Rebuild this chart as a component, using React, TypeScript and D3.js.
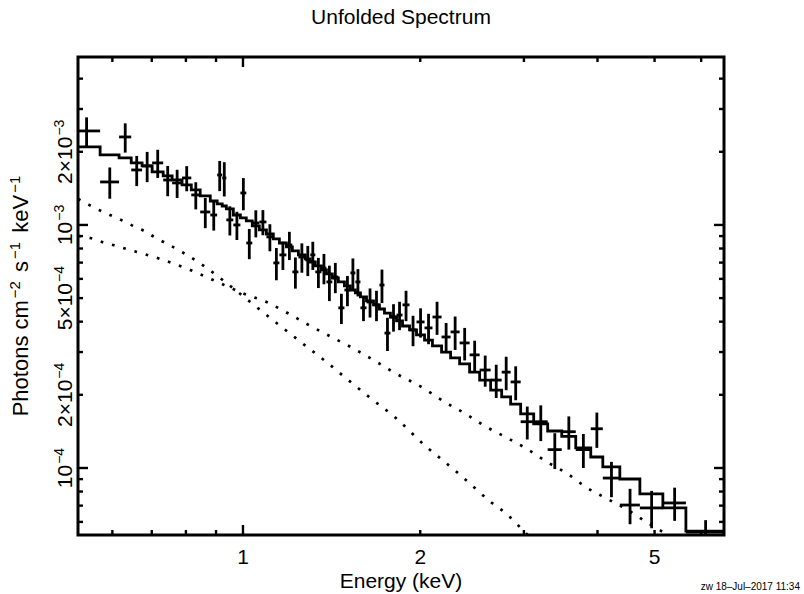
import { useEffect, useRef } from "react";
import * as d3 from "d3";

// channel bin edges (keV)
const binEdges = [
  0.513, 0.572, 0.616, 0.646, 0.674, 0.701, 0.732, 0.758, 0.788, 0.817, 0.846,
  0.88, 0.904, 0.922, 0.937, 0.963, 0.99, 1.013, 1.037, 1.066, 1.096, 1.126,
  1.153, 1.185, 1.213, 1.242, 1.276, 1.301, 1.327, 1.359, 1.386, 1.418, 1.452,
  1.487, 1.522, 1.552, 1.583, 1.621, 1.666, 1.705, 1.739, 1.78, 1.823, 1.866,
  1.918, 1.971, 2.034, 2.098, 2.174, 2.252, 2.333, 2.426, 2.523, 2.634, 2.75,
  2.848, 2.962, 3.117, 3.292, 3.478, 3.674, 3.896, 4.084, 4.365, 4.721, 5.165,
  5.652, 6.558,
];

// unfolded flux, units of 1e-3 photons cm^-2 s^-1 keV^-1
const fluxMilli = [
  2.437, 1.503, 2.302, 1.684, 1.749, 1.8, 1.531, 1.489, 1.561, 1.329, 1.131,
  1.099, 1.606, 1.561, 1.049, 1.0, 1.354, 0.843, 1.019, 1.029, 0.893, 0.698,
  0.753, 0.827, 0.641, 0.738, 0.718, 0.753, 0.641, 0.665, 0.583, 0.611, 0.456,
  0.54, 0.635, 0.583, 0.456, 0.482, 0.469, 0.566, 0.359, 0.418, 0.426, 0.469,
  0.37, 0.399, 0.377, 0.418, 0.346, 0.363, 0.327, 0.292, 0.253, 0.23, 0.248,
  0.226, 0.155, 0.155, 0.119, 0.141, 0.119, 0.145, 0.0909, 0.0704, 0.0685,
  0.0718, 0.0545,
];

const errMilli = [
  0.335, 0.221, 0.317, 0.239, 0.249, 0.239, 0.218, 0.198, 0.185, 0.17, 0.161,
  0.151, 0.228, 0.251, 0.144, 0.133, 0.205, 0.12, 0.13, 0.122, 0.114, 0.106,
  0.1, 0.11, 0.094, 0.102, 0.102, 0.1, 0.091, 0.095, 0.097, 0.087, 0.065,
  0.077, 0.093, 0.075, 0.054, 0.066, 0.067, 0.089, 0.056, 0.054, 0.057, 0.067,
  0.053, 0.055, 0.054, 0.065, 0.049, 0.057, 0.05, 0.042, 0.037, 0.036, 0.039,
  0.036, 0.024, 0.026, 0.02, 0.022, 0.019, 0.024, 0.0151, 0.0117, 0.012,
  0.0112, 0.0065,
];

// total model folded per bin
const modelMilli = [
  2.094, 1.942, 1.887, 1.8, 1.749, 1.652, 1.591, 1.532, 1.461, 1.393, 1.316,
  1.255, 1.22, 1.197, 1.164, 1.099, 1.069, 1.039, 0.991, 0.954, 0.918, 0.876,
  0.843, 0.812, 0.782, 0.753, 0.725, 0.704, 0.678, 0.653, 0.629, 0.605, 0.583,
  0.561, 0.54, 0.525, 0.506, 0.487, 0.469, 0.451, 0.434, 0.418, 0.403, 0.384,
  0.37, 0.353, 0.336, 0.318, 0.3, 0.284, 0.268, 0.248, 0.23, 0.209, 0.196,
  0.183, 0.167, 0.152, 0.142, 0.135, 0.121, 0.111, 0.101, 0.0901, 0.0782,
  0.0685, 0.055,
];

// model components (dotted)
const diskEnergy = [
  0.5247, 0.5477, 0.5741, 0.5994, 0.6258, 0.6508, 0.6794, 0.7065, 0.7822,
  0.8628, 0.9515, 1.029, 1.113, 1.199, 1.291, 1.386, 1.487, 1.646, 1.816,
  2.042, 2.2, 2.36, 2.634, 2.815, 3.009, 3.056,
];
const diskMilli = [
  1.279, 1.209, 1.142, 1.089, 1.039, 0.991, 0.945, 0.893, 0.782, 0.672, 0.561,
  0.482, 0.414, 0.359, 0.312, 0.273, 0.237, 0.194, 0.161, 0.123, 0.106, 0.0918,
  0.0725, 0.0641, 0.0545, 0.0525,
];
const plEnergy = [
  0.5247, 0.5499, 0.5763, 0.6018, 0.6432, 0.7233, 0.8135, 0.8973, 0.9973,
  1.104, 1.199, 1.302, 1.413, 1.534, 1.666, 1.801, 2.026, 2.2, 2.379, 2.573,
  2.793, 3.033, 3.28, 3.561, 3.821, 4.132, 4.504, 4.871, 5.268, 5.372,
];
const plMilli = [
  0.901, 0.884, 0.851, 0.827, 0.789, 0.725, 0.653, 0.588, 0.525, 0.478, 0.43,
  0.384, 0.346, 0.312, 0.278, 0.248, 0.213, 0.187, 0.168, 0.149, 0.134, 0.12,
  0.106, 0.0945, 0.0835, 0.0752, 0.0672, 0.0594, 0.053, 0.0515,
];

const xDomain = [0.5246, 6.56];
const yDomain = [5.3e-5, 4.91e-3];

const xMajorTicks = [1];
const xMinorTicks = [0.6, 0.7, 0.8, 0.9, 2, 3, 4, 5, 6];
const xTickLabels = [1, 2, 5];

const yMajorTicks = [1e-4, 1e-3];
const yMinorTicks = [
  6e-5, 7e-5, 8e-5, 9e-5, 2e-4, 3e-4, 4e-4, 5e-4, 6e-4, 7e-4, 8e-4, 9e-4, 2e-3,
  3e-3, 4e-3,
];
const yTickLabels = [
  { v: 1e-4, m: "", e: "−4" },
  { v: 2e-4, m: "2×", e: "−4" },
  { v: 5e-4, m: "5×", e: "−4" },
  { v: 1e-3, m: "", e: "−3" },
  { v: 2e-3, m: "2×", e: "−3" },
];

const W = 804;
const H = 594;
const margin = { top: 57, right: 80, bottom: 59, left: 78 };
const FONT = "'Liberation Sans', Arial, Helvetica, sans-serif";

export default function App() {
  const ref = useRef<SVGSVGElement>(null);

  useEffect(() => {
    const svg = d3.select(ref.current);
    svg.selectAll("*").remove();

    const x0 = margin.left;
    const x1 = W - margin.right;
    const y0 = margin.top;
    const y1 = H - margin.bottom;

    const x = d3.scaleLog().domain(xDomain).range([x0, x1]);
    const y = d3.scaleLog().domain(yDomain).range([y1, y0]);

    svg
      .append("defs")
      .append("clipPath")
      .attr("id", "plotClip")
      .append("rect")
      .attr("x", x0)
      .attr("y", y0)
      .attr("width", x1 - x0)
      .attr("height", y1 - y0);

    const plot = svg.append("g").attr("clip-path", "url(#plotClip)");

    const bins = fluxMilli.map((f, i) => ({
      lo: binEdges[i],
      hi: binEdges[i + 1],
      mid: (binEdges[i] + binEdges[i + 1]) / 2,
      flux: f * 1e-3,
      err: errMilli[i] * 1e-3,
      model: modelMilli[i] * 1e-3,
    }));

    // dotted components
    const line = d3
      .line<[number, number]>()
      .x((d) => x(d[0]))
      .y((d) => y(d[1]))
      .curve(d3.curveMonotoneX);

    [
      diskEnergy.map((e, i) => [e, diskMilli[i] * 1e-3] as [number, number]),
      plEnergy.map((e, i) => [e, plMilli[i] * 1e-3] as [number, number]),
    ].forEach((pts) => {
      plot
        .append("path")
        .attr("d", line(pts))
        .attr("fill", "none")
        .attr("stroke", "#000")
        .attr("stroke-width", 2.7)
        .attr("stroke-dasharray", "2.7 9")
        .attr("stroke-linecap", "butt");
    });

    // step model
    const stepPts: [number, number][] = [];
    bins.forEach((b) => {
      stepPts.push([b.lo, b.model]);
      stepPts.push([b.hi, b.model]);
    });
    plot
      .append("path")
      .attr("d", d3.line<[number, number]>().x((d) => x(d[0])).y((d) => y(d[1]))(stepPts))
      .attr("fill", "none")
      .attr("stroke", "#000")
      .attr("stroke-width", 2.8)
      .attr("stroke-linejoin", "miter");

    // data crosses
    const pts = plot.append("g").attr("stroke", "#000").attr("stroke-width", 2.8);
    pts
      .selectAll("line.h")
      .data(bins)
      .enter()
      .append("line")
      .attr("x1", (d) => x(d.lo))
      .attr("x2", (d) => x(d.hi))
      .attr("y1", (d) => y(d.flux))
      .attr("y2", (d) => y(d.flux));
    pts
      .selectAll("line.v")
      .data(bins)
      .enter()
      .append("line")
      .attr("x1", (d) => x(d.mid))
      .attr("x2", (d) => x(d.mid))
      .attr("y1", (d) => y(d.flux + d.err))
      .attr("y2", (d) => y(Math.max(d.flux - d.err, yDomain[0] * 0.5)));

    // frame + ticks
    const axes = svg.append("g").attr("stroke", "#000").attr("fill", "none");
    axes
      .append("rect")
      .attr("x", x0)
      .attr("y", y0)
      .attr("width", x1 - x0)
      .attr("height", y1 - y0)
      .attr("stroke-width", 3);

    const tickW = 2.4;
    const addXTicks = (vals: number[], len: number) => {
      vals.forEach((v) => {
        const px = x(v);
        axes.append("line").attr("x1", px).attr("x2", px).attr("y1", y1).attr("y2", y1 - len).attr("stroke-width", tickW);
        axes.append("line").attr("x1", px).attr("x2", px).attr("y1", y0).attr("y2", y0 + len).attr("stroke-width", tickW);
      });
    };
    const addYTicks = (vals: number[], len: number) => {
      vals.forEach((v) => {
        const py = y(v);
        axes.append("line").attr("x1", x0).attr("x2", x0 + len).attr("y1", py).attr("y2", py).attr("stroke-width", tickW);
        axes.append("line").attr("x1", x1).attr("x2", x1 - len).attr("y1", py).attr("y2", py).attr("stroke-width", tickW);
      });
    };
    addXTicks(xMajorTicks, 10);
    addXTicks(xMinorTicks, 5);
    addYTicks(yMajorTicks, 10);
    addYTicks(yMinorTicks, 5);

    const txt = svg.append("g").attr("font-family", FONT).attr("fill", "#000");

    txt
      .append("text")
      .attr("x", (x0 + x1) / 2)
      .attr("y", 24)
      .attr("text-anchor", "middle")
      .attr("font-size", 21)
      .text("Unfolded Spectrum");

    txt
      .selectAll("text.xt")
      .data(xTickLabels)
      .enter()
      .append("text")
      .attr("x", (d) => x(d))
      .attr("y", 564)
      .attr("text-anchor", "middle")
      .attr("font-size", 21)
      .text((d) => String(d));

    txt
      .append("text")
      .attr("x", (x0 + x1) / 2)
      .attr("y", 588)
      .attr("text-anchor", "middle")
      .attr("font-size", 21)
      .text("Energy (keV)");

    yTickLabels.forEach((d) => {
      const t = txt
        .append("text")
        .attr("transform", `translate(72,${y(d.v)}) rotate(-90)`)
        .attr("text-anchor", "middle")
        .attr("font-size", 21);
      t.append("tspan").text(`${d.m}10`);
      t.append("tspan").attr("dx", 1).attr("dy", -8).attr("font-size", 14).text(d.e);
    });

    const yl = txt
      .append("text")
      .attr("transform", `translate(28,${(y0 + y1) / 2}) rotate(-90)`)
      .attr("text-anchor", "middle")
      .attr("font-size", 22);
    yl.append("tspan").text("Photons cm");
    yl.append("tspan").attr("dx", 2).attr("dy", -8).attr("font-size", 15).text("−2");
    yl.append("tspan").attr("dx", 3).attr("dy", 8).text(" s");
    yl.append("tspan").attr("dx", 2).attr("dy", -8).attr("font-size", 15).text("−1");
    yl.append("tspan").attr("dx", 3).attr("dy", 8).text(" keV");
    yl.append("tspan").attr("dx", 2).attr("dy", -8).attr("font-size", 15).text("−1");

    txt
      .append("text")
      .attr("x", 800)
      .attr("y", 590)
      .attr("text-anchor", "end")
      .attr("font-size", 10)
      .text("zw 18–Jul–2017 11:34");
  }, []);

  return (
    <svg
      ref={ref}
      width={W}
      height={H}
      style={{ position: "absolute", left: 0, top: 0, background: "#fff" }}
    />
  );
}
